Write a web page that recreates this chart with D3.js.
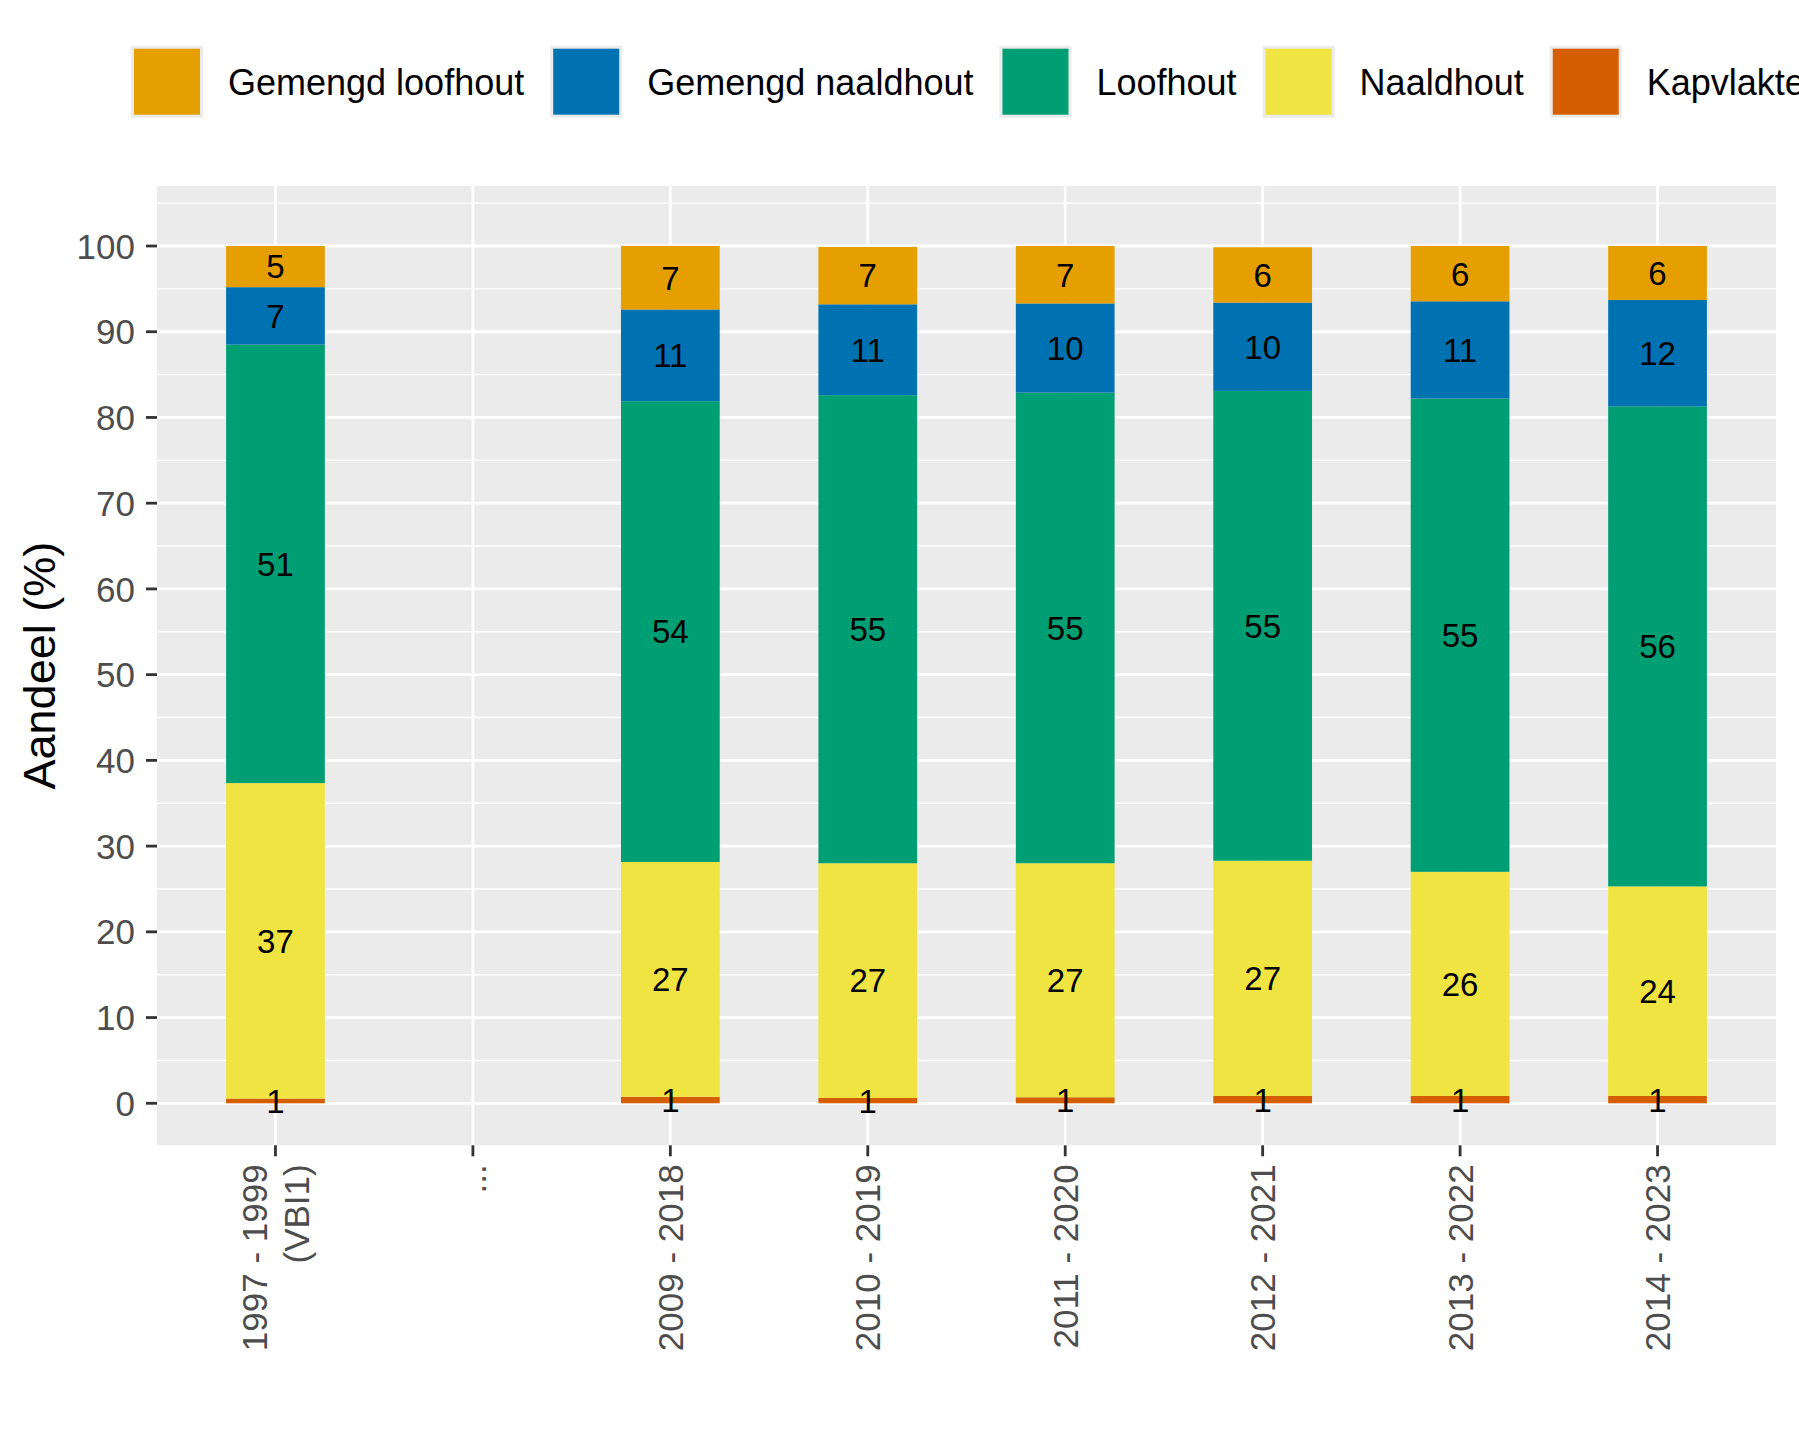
<!DOCTYPE html>
<html>
<head>
<meta charset="utf-8">
<script src="https://cdn.jsdelivr.net/npm/d3@7"></script>
<style>
  body { margin: 0; background: #fff; }
  text { font-family: "Liberation Sans", Arial, sans-serif; }
</style>
</head>
<body>
<div id="chart"></div>
<script>
// periodes op de x-as
var categories = ['1997 - 1999\n(VBI1)', '...', '2009 - 2018', '2010 - 2019',
  '2011 - 2020', '2012 - 2021', '2013 - 2022', '2014 - 2023']

// aandeel (%) per bosklasse, null = geen meting
var kapvlakte = [0.55, null, 0.75, 0.62, 0.7, 0.85, 0.85, 0.85]
var naaldhout = [36.8, null, 27.4, 27.38, 27.3, 27.45, 26.15, 24.45]
var loofhout = [51.15, null, 53.75, 54.6, 54.9, 54.8, 55.2, 56.0]
var gemengdNaaldhout = [6.7, null, 10.7, 10.6, 10.4, 10.3, 11.35, 12.4]
var gemengdLoofhout = [4.8, null, 7.4, 6.7, 6.7, 6.45, 6.45, 6.3]

var yTicks = [0, 10, 20, 30, 40, 50, 60, 70, 80, 90, 100]
var yMinor = [5, 15, 25, 35, 45, 55, 65, 75, 85, 95, 105]

// stapelvolgorde van onder naar boven
var seriesNames = ['Kapvlakte', 'Naaldhout', 'Loofhout', 'Gemengd naaldhout', 'Gemengd loofhout']
var seriesValues = [kapvlakte, naaldhout, loofhout, gemengdNaaldhout, gemengdLoofhout]
var legendOrder = ['Gemengd loofhout', 'Gemengd naaldhout', 'Loofhout', 'Naaldhout', 'Kapvlakte']

var color = d3.scaleOrdinal()
  .domain(['Gemengd loofhout', 'Gemengd naaldhout', 'Loofhout', 'Naaldhout', 'Kapvlakte'])
  .range(['#E69F00', '#0072B2', '#009E73', '#F0E442', '#D55E00'])

var width = 1799
var height = 1439
var pLeft = 157, pRight = 1776, pTop = 186, pBottom = 1145.3

var svg = d3.select('#chart').append('svg')
  .attr('width', width)
  .attr('height', height)

// tabel voor d3.stack
var table = categories.map(function (c, i) {
  var row = { cat: c, empty: seriesValues[0][i] === null }
  seriesNames.forEach(function (s, j) { row[s] = seriesValues[j][i] || 0 })
  return row
})

var x = d3.scalePoint().domain(categories).range([pLeft, pRight]).padding(0.6)
var barW = x.step() * 0.5
var y = d3.scaleLinear().domain([-4.9, 107.0]).range([pBottom, pTop])

// paneel
svg.append('rect')
  .attr('x', pLeft).attr('y', pTop)
  .attr('width', pRight - pLeft).attr('height', pBottom - pTop)
  .attr('fill', '#ebebeb')

var grid = svg.append('g')
grid.selectAll('.minor').data(yMinor).enter().append('line')
  .attr('x1', pLeft).attr('x2', pRight)
  .attr('y1', function (d) { return y(d) }).attr('y2', function (d) { return y(d) })
  .attr('stroke', '#fff').attr('stroke-width', 1.4)
grid.selectAll('.major').data(yTicks).enter().append('line')
  .attr('x1', pLeft).attr('x2', pRight)
  .attr('y1', function (d) { return y(d) }).attr('y2', function (d) { return y(d) })
  .attr('stroke', '#fff').attr('stroke-width', 2.8)
grid.selectAll('.vmajor').data(categories).enter().append('line')
  .attr('x1', function (d) { return x(d) }).attr('x2', function (d) { return x(d) })
  .attr('y1', pTop).attr('y2', pBottom)
  .attr('stroke', '#fff').attr('stroke-width', 2.8)

var stacked = d3.stack().keys(seriesNames)(table)

var layers = svg.selectAll('.layer')
  .data(stacked)
  .enter().append('g')
  .attr('fill', function (d) { return color(d.key) })

layers.selectAll('rect')
  .data(function (d) { return d.filter(function (e) { return !e.data.empty }) })
  .enter().append('rect')
  .attr('x', function (d) { return x(d.data.cat) - barW / 2 })
  .attr('width', barW)
  .attr('y', function (d) { return y(d[1]) })
  .attr('height', function (d) { return y(d[0]) - y(d[1]) })

// labels midden in elk segment
var labels = svg.append('g')
stacked.forEach(function (layer) {
  layer.forEach(function (d) {
    if (d.data.empty) return
    labels.append('text')
      .attr('x', x(d.data.cat))
      .attr('y', y((d[0] + d[1]) / 2))
      .attr('dy', '0.36em')
      .attr('text-anchor', 'middle')
      .attr('font-size', 33)
      .attr('fill', '#000')
      .text(Math.round(d[1] - d[0]))
  })
})

// y-as
var yAxis = svg.append('g')
yAxis.selectAll('line').data(yTicks).enter().append('line')
  .attr('x1', pLeft - 11).attr('x2', pLeft)
  .attr('y1', function (d) { return y(d) }).attr('y2', function (d) { return y(d) })
  .attr('stroke', '#333').attr('stroke-width', 2.8)
yAxis.selectAll('text').data(yTicks).enter().append('text')
  .attr('x', pLeft - 22)
  .attr('y', function (d) { return y(d) })
  .attr('dy', '0.36em')
  .attr('text-anchor', 'end')
  .attr('font-size', 35)
  .attr('fill', '#4d4d4d')
  .text(function (d) { return d })

svg.append('text')
  .attr('transform', 'translate(55,' + (pTop + pBottom) / 2 + ') rotate(-90)')
  .attr('text-anchor', 'middle')
  .attr('font-size', 45)
  .attr('fill', '#000')
  .text('Aandeel (%)')

// x-as
var xAxis = svg.append('g')
xAxis.selectAll('line').data(categories).enter().append('line')
  .attr('x1', function (d) { return x(d) }).attr('x2', function (d) { return x(d) })
  .attr('y1', pBottom).attr('y2', pBottom + 11)
  .attr('stroke', '#333').attr('stroke-width', 2.8)
categories.forEach(function (c) {
  var lines = c.split('\n')
  var t = xAxis.append('text')
    .attr('transform', 'translate(' + x(c) + ',' + (pBottom + 19) + ') rotate(-90)')
    .attr('text-anchor', 'end')
    .attr('font-size', 35)
    .attr('fill', '#4d4d4d')
  lines.forEach(function (l, i) {
    t.append('tspan')
      .attr('x', 0)
      .attr('y', 0)
      .attr('dy', (0.36 + (i - (lines.length - 1) / 2) * 1.2) + 'em')
      .text(l)
  })
})

// legenda
var legend = svg.append('g')
var lx = 131
legendOrder.forEach(function (name) {
  legend.append('rect')
    .attr('x', lx).attr('y', 45.7)
    .attr('width', 72).attr('height', 72)
    .attr('fill', '#ebebeb')
  legend.append('rect')
    .attr('x', lx + 3).attr('y', 48.7)
    .attr('width', 66).attr('height', 66)
    .attr('fill', color(name))
  var t = legend.append('text')
    .attr('x', lx + 72 + 25)
    .attr('y', 81.7)
    .attr('dy', '0.36em')
    .attr('font-size', 36)
    .attr('fill', '#000')
    .text(name)
  lx = lx + 72 + 25 + t.node().getComputedTextLength() + 26
})
</script>
</body>
</html>
